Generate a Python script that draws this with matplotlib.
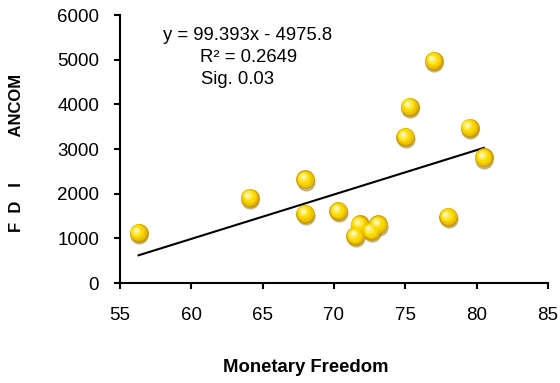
import matplotlib
matplotlib.use("Agg")
import matplotlib.pyplot as plt
import matplotlib.transforms as mtransforms
import numpy as np

plt.rcParams['font.family'] = ['Liberation Sans', 'DejaVu Sans']

# Data
monetary_freedom = [56.3, 64.1, 68.0, 68.0, 70.3, 71.8, 71.5, 72.6, 73.1,
                    75.0, 75.3, 77.0, 78.0, 79.5, 80.5]
fdi_ancom = [1120, 1910, 2320, 1550, 1610, 1310, 1050, 1160, 1310,
             3270, 3950, 4970, 1480, 3480, 2810]
slope = 99.393
intercept = -4975.8
eq_lines = ["y = 99.393x - 4975.8", "R\u00b2 = 0.2649", "Sig. 0.03"]
x_ticks = [55, 60, 65, 70, 75, 80, 85]
y_ticks = [0, 1000, 2000, 3000, 4000, 5000, 6000]

fig = plt.figure(figsize=(5.6, 3.83), dpi=100)
ax = fig.add_axes([120/560, 1-283/383, 428/560, 268/383])

x = np.array(monetary_freedom)
y = np.array(fdi_ancom)

# trend line
xl = np.array([x.min(), x.max()])
ax.plot(xl, slope*xl + intercept, color='black', lw=1.5, zorder=2)

# 3D-like spheres
def off(dx, dy):
    return mtransforms.offset_copy(ax.transData, fig=fig, x=dx, y=dy, units='points')

ax.scatter(x, y, s=170, color='#7a6a10', alpha=0.5, lw=0, transform=off(0.3, -1.6), zorder=3)
ax.scatter(x, y, s=185, color='#cc9c00', lw=0, transform=off(0, 0), zorder=4)
ax.scatter(x, y, s=145, color='#ecc200', lw=0, transform=off(-0.4, 0.6), zorder=5)
ax.scatter(x, y, s=95, color='#fad900', lw=0, transform=off(-0.9, 1.1), zorder=6)
ax.scatter(x, y, s=45, color='#ffe84a', lw=0, transform=off(-1.5, 1.7), zorder=7)
ax.scatter(x, y, s=12, color='#fff6b0', lw=0, transform=off(-1.9, 2.1), zorder=8)

ax.set_xlim(55, 85)
ax.set_ylim(0, 6000)
ax.set_xticks(x_ticks)
ax.set_yticks(y_ticks)
ax.set_xticklabels([str(v) for v in x_ticks])
ax.set_yticklabels([str(v) for v in y_ticks])

for s in ['top', 'right']:
    ax.spines[s].set_visible(False)
for s in ['left', 'bottom']:
    ax.spines[s].set_linewidth(1.5)
    ax.spines[s].set_color('black')
ax.tick_params(axis='x', direction='out', length=4, width=1.5, pad=13, labelsize=13.5)
ax.tick_params(axis='y', direction='out', length=4, width=1.5, pad=11, labelsize=13.5)

# equation text
ax.text((163-120)/428, 1-(35-15)/268, eq_lines[0], transform=ax.transAxes,
        fontsize=13.3, ha='left', va='center')
ax.text((200-120)/428, 1-(58-15)/268, eq_lines[1], transform=ax.transAxes,
        fontsize=13.3, ha='left', va='center')
ax.text((201-120)/428, 1-(79-15)/268, eq_lines[2], transform=ax.transAxes,
        fontsize=13.3, ha='left', va='center')

fig.text(306/560, 1-368/383, "Monetary Freedom", fontsize=13.3, fontweight='bold',
         ha='center', va='center')
fig.text(17/560, 1-153/383, "F  D   I          ANCOM", fontsize=12, fontweight='bold',
         ha='center', va='center', rotation=90)

fig.savefig("out.png", dpi=100)
